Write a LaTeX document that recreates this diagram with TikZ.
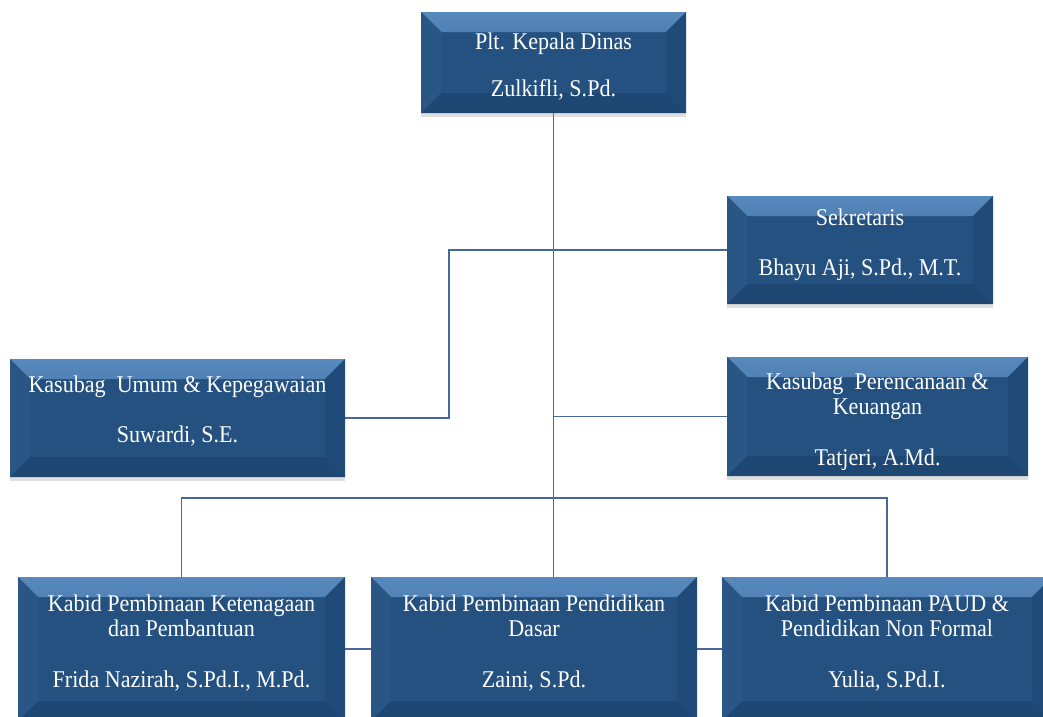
\documentclass[tikz,border=0pt]{standalone}
\usepackage{fontspec}
\setmainfont[FakeStretch=0.92]{Liberation Serif}
\usepackage{xcolor}
\usetikzlibrary{shadows,backgrounds}

\definecolor{kotak}{HTML}{24517F}
\definecolor{kotakterang}{HTML}{5889BD}
\definecolor{kotaktengah}{HTML}{2B5A8A}
\definecolor{kotakkiri}{HTML}{295685}
\definecolor{kotakkanan}{HTML}{204B78}
\definecolor{kotakbawah}{HTML}{1E4774}
\definecolor{garis}{HTML}{46699A}

\tikzset{
  jabatan/.style={fill=kotak, text=white, align=center, inner sep=0pt,
    font=\fontsize{24}{25}\selectfont, text depth=0pt,
    drop shadow={shadow xshift=0pt, shadow yshift=-4pt, opacity=0.25},
    path picture={
      \shade[top color=kotakterang, bottom color=kotaktengah]
        (path picture bounding box.north west) -- (path picture bounding box.north east)
        -- ([shift={(-20pt,-20pt)}]path picture bounding box.north east)
        -- ([shift={(20pt,-20pt)}]path picture bounding box.north west) -- cycle;
      \fill[kotakkiri]
        (path picture bounding box.north west) -- ([shift={(20pt,-20pt)}]path picture bounding box.north west)
        -- ([shift={(20pt,20pt)}]path picture bounding box.south west) -- (path picture bounding box.south west) -- cycle;
      \fill[kotakkanan]
        (path picture bounding box.north east) -- ([shift={(-20pt,-20pt)}]path picture bounding box.north east)
        -- ([shift={(-20pt,20pt)}]path picture bounding box.south east) -- (path picture bounding box.south east) -- cycle;
      \fill[kotakbawah]
        (path picture bounding box.south west) -- ([shift={(20pt,20pt)}]path picture bounding box.south west)
        -- ([shift={(-20pt,20pt)}]path picture bounding box.south east) -- (path picture bounding box.south east) -- cycle;
    }},
  hubung/.style={draw=garis, line width=1.6pt}
}

\begin{document}
\begin{tikzpicture}[x=1pt, y=-1pt]
\useasboundingbox (0,0) rectangle (1043,716);
\clip (0,0) rectangle (1043,716);

\node[jabatan, text height=68pt, minimum width=265pt, minimum height=101pt] (kadis) at (553.5,62.5)
  {Plt. Kepala Dinas\\[22pt]Zulkifli, S.Pd.};
\node[jabatan, text height=51pt, minimum width=266pt, minimum height=108pt] (sekr) at (860,250)
  {Sekretaris\\[25pt]Bhayu Aji, S.Pd., M.T.};
\node[jabatan, text height=49pt, minimum width=335pt, minimum height=118pt] (umum) at (177.5,418)
  {Kasubag~ Umum \& Kepegawaian\\[25pt]Suwardi, S.E.};
\node[jabatan, text height=98pt, minimum width=301pt, minimum height=119pt] (rencana) at (877.5,416.5)
  {Kasubag~ Perencanaan \&\\Keuangan\\[26pt]Tatjeri, A.Md.};

\node[jabatan, text height=77pt, minimum width=327pt, minimum height=144pt] (frida) at (181.5,649)
  {Kabid Pembinaan Ketenagaan\\dan Pembantuan\\[26pt]Frida Nazirah, S.Pd.I., M.Pd.};
\node[jabatan, text height=77pt, minimum width=326pt, minimum height=144pt] (zaini) at (534,649)
  {Kabid Pembinaan Pendidikan\\Dasar\\[26pt]Zaini, S.Pd.};
\node[jabatan, text height=77pt, minimum width=330pt, minimum height=144pt] (yulia) at (887,649)
  {Kabid Pembinaan PAUD \&\\Pendidikan Non Formal\\[26pt]Yulia, S.Pd.I.};

\coordinate (belok) at (449,300);
\coordinate (cabang) at (553.5,341);
\coordinate (palang) at (553.5,498);

\begin{scope}[on background layer]
\draw[hubung] (kadis.south) -- (kadis.south |- zaini.north);
\draw[hubung] (sekr.west) -| (belok) |- (umum.east);
\draw[hubung] (cabang) |- (rencana.west);
\draw[hubung] (frida.north) |- (palang) -| (yulia.north);
\draw[hubung] (frida.east) -- (zaini.west);
\draw[hubung] (zaini.east) -- (yulia.west);
\end{scope}
\end{tikzpicture}
\end{document}
